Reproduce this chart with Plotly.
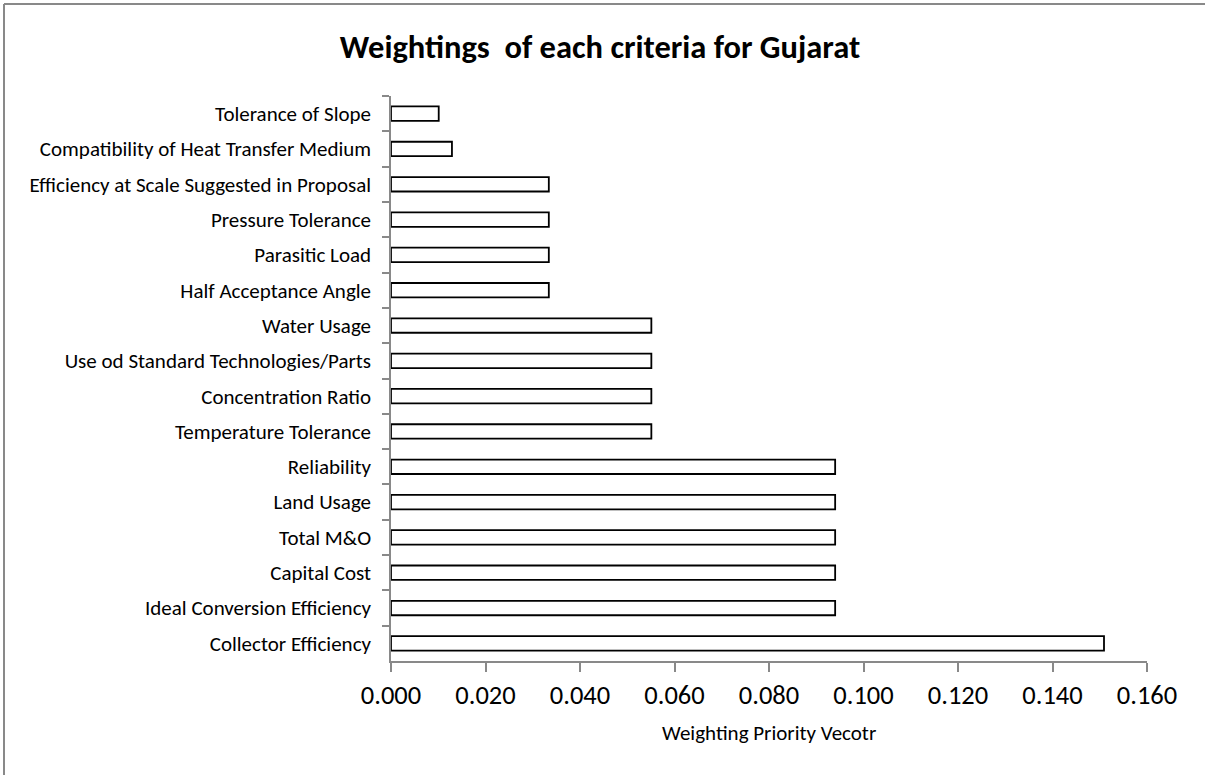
import plotly.graph_objects as go

categories = [
    "Tolerance of Slope",
    "Compatibility of Heat Transfer Medium",
    "Efficiency at Scale Suggested in Proposal",
    "Pressure Tolerance",
    "Parasitic Load",
    "Half Acceptance Angle",
    "Water Usage",
    "Use od Standard Technologies/Parts",
    "Concentration Ratio",
    "Temperature Tolerance",
    "Reliability",
    "Land Usage",
    "Total M&O",
    "Capital Cost",
    "Ideal Conversion Efficiency",
    "Collector Efficiency",
]
weights = [0.0101, 0.0129, 0.0334, 0.0334, 0.0334, 0.0334,
           0.0551, 0.0551, 0.0551, 0.0551,
           0.0940, 0.0940, 0.0940, 0.0940, 0.0940, 0.1509]
tick_vals = [0.0, 0.02, 0.04, 0.06, 0.08, 0.10, 0.12, 0.14, 0.16]
tick_text = ["0.000", "0.020", "0.040", "0.060", "0.080", "0.100", "0.120", "0.140", "0.160"]

title_text = "Weightings  of each criteria for Gujarat"
x_title = "Weighting Priority Vecotr"

W, H = 1205, 775
L, R, T, B = 391, 58, 96, 114
pw, ph = W - L - R, H - T - B

def px_x(x):
    return (x - L) / pw

def px_y(y):
    return (H - B - y) / ph

FONT = "Carlito, Lato, sans-serif"
GRAY = "#898989"

fig = go.Figure(go.Bar(
    x=weights, y=categories, orientation="h",
    marker=dict(color="white", line=dict(color="black", width=1.8)),
    width=0.41,
))

fig.update_layout(
    width=W, height=H,
    margin=dict(l=L, r=R, t=T, b=B, autoexpand=False),
    paper_bgcolor="white", plot_bgcolor="white",
    showlegend=False,
    font=dict(family=FONT, color="black"),
    title=dict(text="<b>" + title_text + "</b>", x=600 / W, xref="container",
               xanchor="center", y=1 - 47 / H, yref="container", yanchor="middle",
               font=dict(family=FONT, size=32.5, color="black")),
    xaxis=dict(range=[0, 0.16], tickvals=tick_vals, ticktext=tick_text,
               showgrid=False, zeroline=False, showline=True, linecolor=GRAY, linewidth=1.5,
               ticks="outside", ticklen=9, tickcolor=GRAY, tickwidth=1.5,
               tickfont=dict(family=FONT, size=26.5, color="black"), automargin=False),
    yaxis=dict(type="category", autorange="reversed", showgrid=False, zeroline=False,
               showline=True, linecolor=GRAY, linewidth=1.5,
               ticks="outside", ticklen=7, tickcolor=GRAY, tickwidth=1.5, tickson="boundaries",
               ticklabelstandoff=14,
               tickfont=dict(family=FONT, size=21, color="black"), automargin=False),
    annotations=[dict(text=x_title, xref="paper", yref="paper", x=0.5, y=px_y(733),
                      xanchor="center", yanchor="middle", showarrow=False,
                      font=dict(family=FONT, size=21, color="black"))],
    shapes=[
        dict(type="line", xref="paper", yref="paper", x0=px_x(4), x1=px_x(W + 5),
             y0=px_y(4), y1=px_y(4), line=dict(color=GRAY, width=2)),
        dict(type="line", xref="paper", yref="paper", x0=px_x(4), x1=px_x(4),
             y0=px_y(4), y1=px_y(H + 5), line=dict(color=GRAY, width=2)),
    ],
)

fig.write_html("out.html", config={"displayModeBar": False},
               post_script="document.body.style.margin='0';document.body.style.overflow='hidden';")
